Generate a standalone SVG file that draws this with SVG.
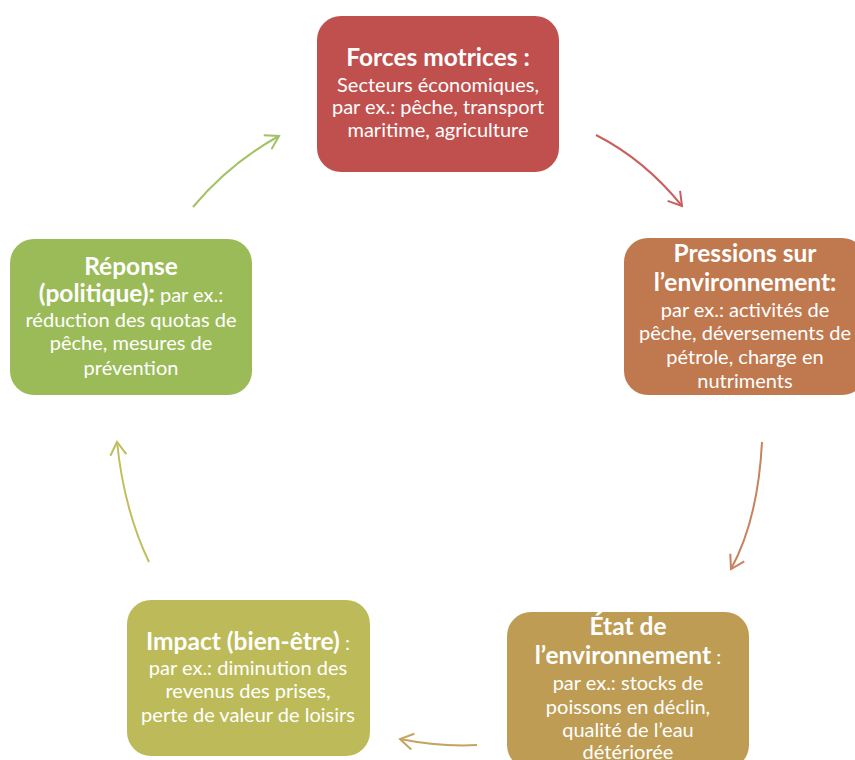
<svg xmlns="http://www.w3.org/2000/svg" width="855" height="760" viewBox="0 0 855 760">
<style>
text{font-family:Lato,"Open Sans","Liberation Sans",sans-serif;fill:#fff;text-anchor:middle}
.t{font-size:24.5px;font-weight:bold}
.b{font-size:20px}
.c{fill:none;stroke-width:2}
</style>
<defs>
<marker id="m1" markerUnits="userSpaceOnUse" markerWidth="30" markerHeight="30" refX="0" refY="0" viewBox="-15 -15 30 30" orient="auto"><path d="M-13,-8 L0,0 L-13,8" fill="none" stroke="#C9605D" stroke-width="2"/></marker>
<marker id="m2" markerUnits="userSpaceOnUse" markerWidth="30" markerHeight="30" refX="0" refY="0" viewBox="-15 -15 30 30" orient="auto"><path d="M-13,-8 L0,0 L-13,8" fill="none" stroke="#C7825E" stroke-width="2"/></marker>
<marker id="m3" markerUnits="userSpaceOnUse" markerWidth="30" markerHeight="30" refX="0" refY="0" viewBox="-15 -15 30 30" orient="auto"><path d="M-13,-8 L0,0 L-13,8" fill="none" stroke="#C6A35F" stroke-width="2"/></marker>
<marker id="m4" markerUnits="userSpaceOnUse" markerWidth="30" markerHeight="30" refX="0" refY="0" viewBox="-15 -15 30 30" orient="auto"><path d="M-13,-8 L0,0 L-13,8" fill="none" stroke="#C0BF5F" stroke-width="2"/></marker>
<marker id="m5" markerUnits="userSpaceOnUse" markerWidth="30" markerHeight="30" refX="0" refY="0" viewBox="-15 -15 30 30" orient="auto"><path d="M-13,-8 L0,0 L-13,8" fill="none" stroke="#A2C263" stroke-width="2"/></marker>
</defs>
<g id="connectors">
<path class="c" d="M596,135 Q645,160 682,206" stroke="#C9605D" marker-end="url(#m1)"/>
<path class="c" d="M762,442 Q758,520 731,569" stroke="#C7825E" marker-end="url(#m2)"/>
<path class="c" d="M477,745 Q440,747 400,739" stroke="#C6A35F" marker-end="url(#m3)"/>
<path class="c" d="M149,562 Q124,510 117,442" stroke="#C0BF5F" marker-end="url(#m4)"/>
<path class="c" d="M193,207 Q230,163 279,136" stroke="#A2C263" marker-end="url(#m5)"/>
</g>
<g id="forces">
<rect x="317" y="16" width="242" height="156" rx="24" fill="#C0504D"/>
<text x="438" y="66" class="t">Forces motrices :</text>
<text x="438" y="92" class="b">Secteurs économiques,</text>
<text x="438" y="114" class="b">par ex.: pêche, transport</text>
<text x="438" y="137" class="b">maritime, agriculture</text>
</g>
<g id="pressions">
<rect x="624" y="238" width="242" height="157" rx="24" fill="#C0784F"/>
<text x="745" y="262" class="t">Pressions sur</text>
<text x="745" y="291" class="t">l’environnement:</text>
<text x="745" y="317" class="b">par ex.: activités de</text>
<text x="745" y="340" class="b">pêche, déversements de</text>
<text x="745" y="364" class="b">pétrole, charge en</text>
<text x="745" y="388" class="b">nutriments</text>
</g>
<g id="etat">
<rect x="507" y="612" width="242" height="157" rx="24" fill="#BE9C54"/>
<text x="628" y="635" class="t">État de</text>
<text x="628" y="664"><tspan class="t">l’environnement</tspan><tspan class="b"> :</tspan></text>
<text x="628" y="690" class="b">par ex.: stocks de</text>
<text x="628" y="714" class="b">poissons en déclin,</text>
<text x="628" y="737" class="b">qualité de l’eau</text>
<text x="628" y="759" class="b">détériorée</text>
</g>
<g id="impact">
<rect x="127" y="600" width="243" height="156" rx="24" fill="#BDBB59"/>
<text x="248" y="650"><tspan class="t">Impact (bien-être)</tspan><tspan class="b"> :</tspan></text>
<text x="248" y="675" class="b">par ex.: diminution des</text>
<text x="248" y="698" class="b">revenus des prises,</text>
<text x="248" y="722" class="b">perte de valeur de loisirs</text>
</g>
<g id="reponse">
<rect x="10" y="239" width="242" height="156" rx="24" fill="#9BBB59"/>
<text x="131" y="275" class="t">Réponse</text>
<text x="131" y="302"><tspan class="t">(politique):</tspan><tspan class="b"> par ex.:</tspan></text>
<text x="131" y="327" class="b">réduction des quotas de</text>
<text x="131" y="350" class="b">pêche, mesures de</text>
<text x="131" y="375" class="b">prévention</text>
</g>
</svg>
